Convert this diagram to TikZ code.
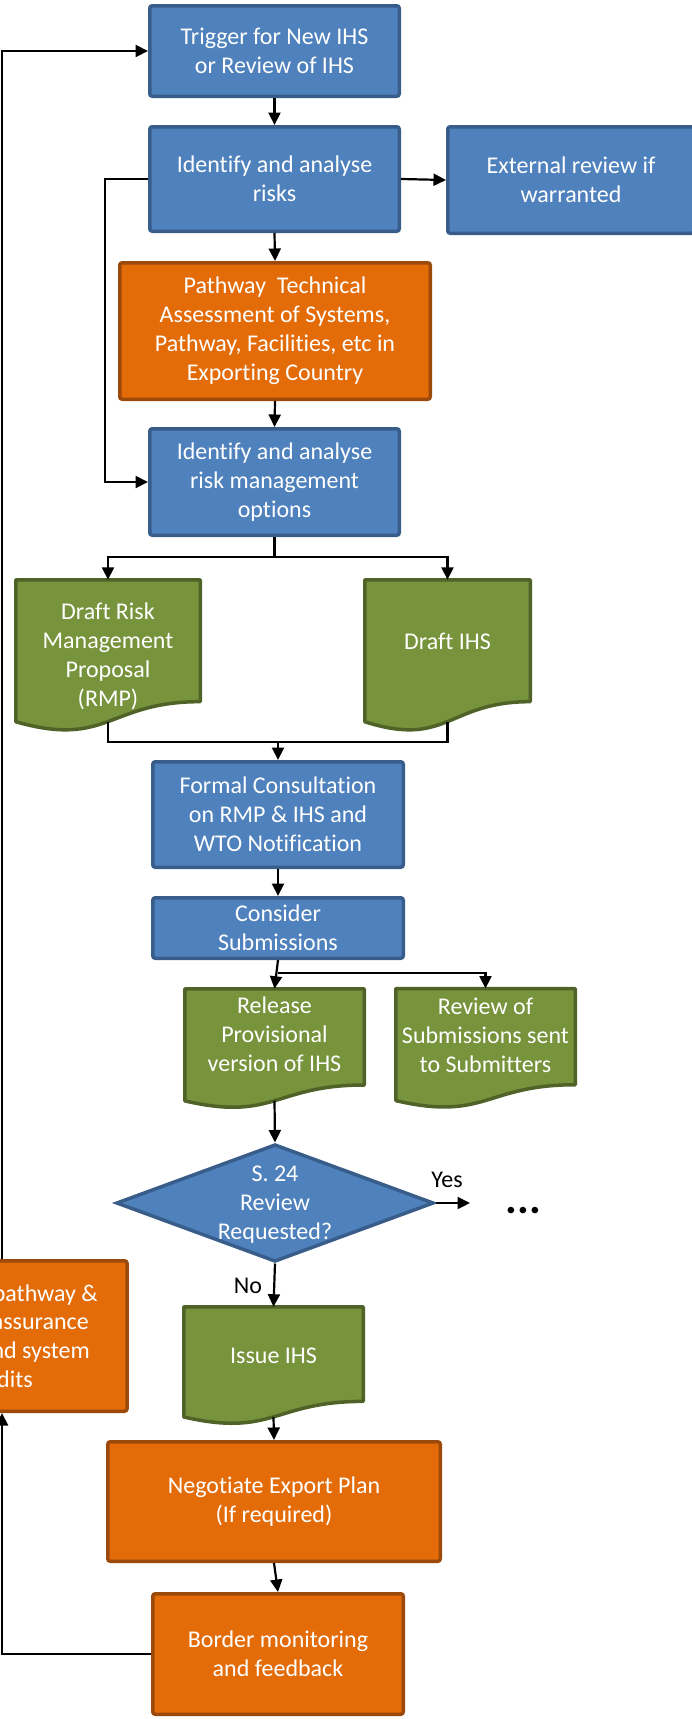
\documentclass[tikz,border=0pt]{standalone}
\usepackage{fontspec}
\setmainfont{Carlito}[Ligatures={NoCommon,NoContextual,NoRequired}]
\usetikzlibrary{shapes.geometric,arrows.meta}
\definecolor{cblue}{HTML}{4F81BD}
\definecolor{cblueD}{HTML}{385D8A}
\definecolor{corange}{HTML}{E36C09}
\definecolor{corangeD}{HTML}{9C4A0B}
\definecolor{cgreen}{HTML}{77933C}
\definecolor{cgreenD}{HTML}{4F6228}
\newcommand\DocShape[8]{%
  \path[docgreen] ({#2-#4/2},#3) -- ({#2+#4/2},#3) -- ({#2+#4/2},{#3+0.802*#5})
    .. controls ({#2},{#3+0.802*#5}) and ({#2},{#3+1.1075*#5}) .. ({#2-#4/2},{#3+0.934*#5}) -- cycle;
  \node[doctext] (#1) at (#2,#8) {#7};
  \coordinate (#1-top) at (#2,#3);
  \coordinate (#1-bot) at (#2,{#3+0.933*#5});
}
\begin{document}
\begin{tikzpicture}[x=1pt,y=-1pt,
  every node/.style={font=\fontsize{24}{29}\selectfont},
  box/.style={draw, line width=3.5pt, rounded corners=2.5pt, text=white, align=center, inner sep=0pt},
  bluebox/.style={box, fill=cblue, draw=cblueD},
  orangebox/.style={box, fill=corange, draw=corangeD},
  docgreen/.style={fill=cgreen, draw=cgreenD, line width=3.5pt, line join=round},
  doctext/.style={text=white, align=center, inner sep=0pt},
  lbl/.style={text=black, inner sep=0pt},
  arr/.style={line width=2.2pt, -{Triangle[length=12.5pt,width=12pt]}},
  con/.style={line width=2.2pt},
  diam/.style={diamond, draw=cblueD, fill=cblue, line width=3.5pt, inner sep=0pt}
]
\useasboundingbox (0,0) rectangle (692,1719);
\clip (0,0) rectangle (692,1719);

% boxes
\node[bluebox, minimum width=249.5, minimum height=90.5] (trig) at (274.5,51) {Trigger for New IHS\\or Review of IHS};
\node[bluebox, minimum width=249.5, minimum height=104.5] (risk) at (274.5,179) {Identify and analyse\\risks};
\node[bluebox, minimum width=246.5, minimum height=106.5] (ext) at (571,180) {External review if\\warranted};
\node[orangebox, minimum width=310.5, minimum height=136.5] (path) at (275,331) {Pathway\ \ Technical\\Assessment of Systems,\\Pathway, Facilities, etc in\\Exporting Country};
\node[bluebox, minimum width=249.5, minimum height=106.5] (opts) at (274.5,482) {Identify and analyse\\risk management\\options};

\DocShape{rmp}{108}{579.75}{184.5}{152}{}{Draft Risk\\Management\\Proposal\\(RMP)}{656}
\DocShape{ihs}{447.5}{579.75}{165.5}{152}{}{Draft IHS}{641}

\node[bluebox, minimum width=250.5, minimum height=105.5] (formal) at (278,814.5) {Formal Consultation\\on RMP \& IHS and\\WTO Notification};
\node[bluebox, minimum width=250.5, minimum height=60.5] (cons) at (278,928) {Consider\\Submissions};

\DocShape{rel}{274.5}{988.75}{179.5}{120}{}{Release\\Provisional\\version of IHS}{1034}
\DocShape{rev}{485.5}{988.5}{179.5}{120}{}{Review of\\Submissions sent\\to Submitters}{1035}

\node[diam, minimum width=317.5, minimum height=117.5] (dia) at (275,1203) {};
\node[doctext] (diat) at (275,1205) {S. 24\\Review\\Requested?};

\DocShape{iss}{273.5}{1306.75}{179.5}{118}{}{Issue IHS}{1356}

\node[orangebox, minimum width=332.5, minimum height=119.5] (neg) at (274,1501.5) {Negotiate Export Plan\\(If required)};
\node[orangebox, minimum width=250.5, minimum height=120.5] (bord) at (278,1654) {Border monitoring\\and feedback};

\node[orangebox, minimum width=247, minimum height=150.5] (aud) at (3.5,1336) {};
\node[text=white, anchor=east, inner sep=0pt] (aud1) at (98,1296) {\strut pathway \&};
\node[text=white, anchor=east, inner sep=0pt] (aud2) at (89,1324) {\strut assurance};
\node[text=white, anchor=east, inner sep=0pt] (aud3) at (90,1353) {\strut and system};
\node[text=white, anchor=east, inner sep=0pt] (aud4) at (33,1382) {\strut audits};

% labels
\node[lbl] (yes) at (447,1180) {Yes};
\node[lbl] (no) at (248,1286) {No};
\node[lbl, anchor=base, font=\fontsize{44}{50}\bfseries\selectfont] (dots) at (523.5,1213) {...};

% coordinates
\coordinate (lx) at (2,0);
\coordinate (lx2) at (105,0);
\coordinate (br) at (274.5,557);
\coordinate (mg) at (278,742);
\coordinate (sp) at (0,973);
\coordinate (yesend) at (470,1203);

% connectors
\draw[arr] (trig.south) -- (risk.north);
\draw[arr] (risk.east) -- (ext.west);
\draw[arr] (risk.south) -- (path.north);
\draw[arr] (risk.west) -- (risk.west -| lx2) |- (opts.west);
\draw[arr] (path.south) -- (opts.north);
\draw[con] (opts.south) -- (br);
\draw[arr] (br) -| (rmp-top);
\draw[arr] (br) -| (ihs-top);
\draw[con] (rmp-bot) |- (mg) -| (ihs-bot);
\draw[arr] (mg) -- (formal.north);
\draw[arr] (formal.south) -- (cons.north);
\draw[arr] (cons.south) -- (rel-top);
\draw[arr] (cons.south |- sp) -| (rev-top);
\draw[arr] (rel-bot) -- (dia.north);
\draw[arr] (dia.east) -- (yesend);
\draw[arr] (dia.south) -- (iss-top);
\draw[arr] (iss-bot) -- (neg.north);
\draw[arr] (neg.south) -- (bord.north);
\draw[arr] (bord.west) -| (aud.south -| lx);
\draw[arr] (aud.north -| lx) |- (trig.west);
\end{tikzpicture}
\end{document}
